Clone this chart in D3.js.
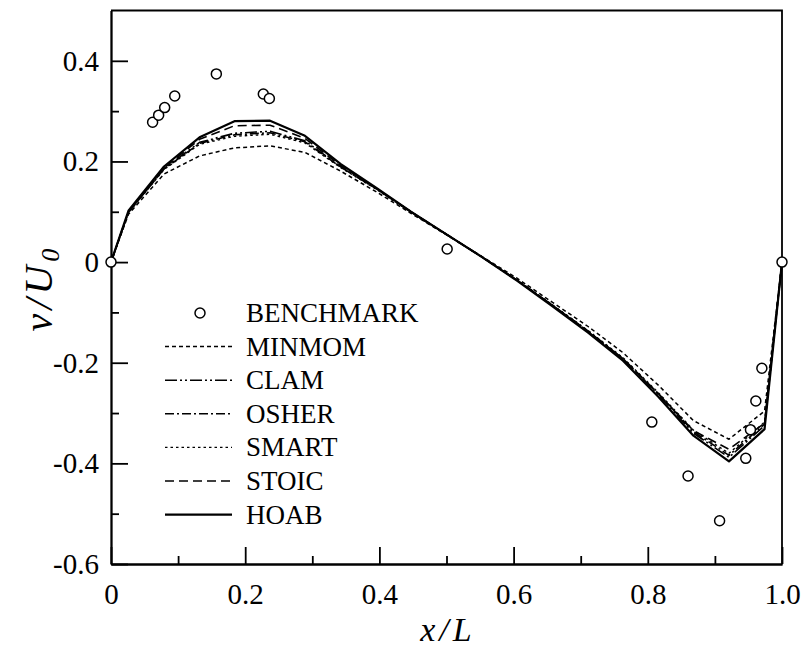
<!DOCTYPE html>
<html>
<head>
<meta charset="utf-8">
<script src="https://cdn.jsdelivr.net/npm/d3@7"></script>
<style>
  body { margin: 0; background: #fff; }
  svg { display: block; font-family: "Liberation Serif", "DejaVu Serif", serif; }
</style>
</head>
<body>
<div id="chart"></div>
<script>
// -----------------------------
// data
// -----------------------------

const xNodes = [0, 0.026, 0.079, 0.132, 0.184, 0.237, 0.289, 0.342, 0.395, 0.447, 0.5,
    0.553, 0.605, 0.658, 0.711, 0.763, 0.816, 0.868, 0.921, 0.974, 1.0]

const minmom = [0, 0.095, 0.175, 0.211, 0.227, 0.231, 0.218, 0.181, 0.140, 0.097, 0.054,
    0.011, -0.032, -0.080, -0.128, -0.180, -0.245, -0.315, -0.352, -0.296, 0]
const clam = [0, 0.099, 0.186, 0.238, 0.256, 0.260, 0.241, 0.190, 0.146, 0.100, 0.055,
    0.010, -0.036, -0.086, -0.138, -0.193, -0.264, -0.340, -0.388, -0.325, 0]
const osher = [0, 0.099, 0.185, 0.236, 0.253, 0.257, 0.239, 0.189, 0.146, 0.100, 0.055,
    0.010, -0.036, -0.086, -0.137, -0.192, -0.262, -0.337, -0.384, -0.322, 0]
const smart = [0, 0.098, 0.184, 0.234, 0.250, 0.254, 0.237, 0.188, 0.145, 0.099, 0.055,
    0.010, -0.035, -0.085, -0.136, -0.190, -0.260, -0.334, -0.380, -0.318, 0]
const stoic = [0, 0.100, 0.187, 0.244, 0.271, 0.272, 0.246, 0.192, 0.147, 0.100, 0.055,
    0.010, -0.036, -0.086, -0.137, -0.192, -0.262, -0.335, -0.372, -0.320, 0]
const hoab = [0, 0.102, 0.190, 0.248, 0.280, 0.281, 0.251, 0.195, 0.148, 0.100, 0.055,
    0.010, -0.037, -0.088, -0.140, -0.196, -0.268, -0.345, -0.396, -0.332, 0]

const benchX = [0, 0.062, 0.071, 0.080, 0.095, 0.157, 0.227, 0.236, 0.501,
    0.806, 0.860, 0.907, 0.946, 0.953, 0.961, 0.970, 1.0]
const benchY = [0, 0.278, 0.292, 0.307, 0.330, 0.374, 0.334, 0.325, 0.026,
    -0.318, -0.425, -0.514, -0.390, -0.333, -0.276, -0.211, 0]

const xTicks = [0, 0.2, 0.4, 0.6, 0.8, 1.0]
const xTickLabels = ['0', '0.2', '0.4', '0.6', '0.8', '1.0']
const xMinor = [0.1, 0.3, 0.5, 0.7, 0.9]
const yTicks = [-0.6, -0.4, -0.2, 0, 0.2, 0.4]
const yTickLabels = ['-0.6', '-0.4', '-0.2', '0', '0.2', '0.4']
const yMinor = [-0.5, -0.3, -0.1, 0.1, 0.3]

const seriesNames = ['MINMOM', 'CLAM', 'OSHER', 'SMART', 'STOIC', 'HOAB']
const seriesValues = [minmom, clam, osher, smart, stoic, hoab]
const seriesDash = ['4,3', '12,3,2,3,2,3', '9,3,2,3', '2.5,3', '9,5', null]
const seriesWidth = [1.5, 1.6, 1.6, 1.4, 1.6, 2.2]

const serif = '"Liberation Serif", "DejaVu Serif", serif'

// -----------------------------
// layout
// -----------------------------

const w = 807
const h = 648
const plot = {left: 111, right: 782, top: 10.5, bottom: 564}

const xScale = d3.scaleLinear().domain([0, 1]).range([plot.left, plot.right])
const yScale = d3.scaleLinear().domain([-0.6, 0.5]).range([plot.bottom, plot.top])

const svg = d3.select('#chart')
    .append('svg')
    .attr('width', w)
    .attr('height', h)

// frame (top + right)
svg.append('path')
    .attr('d', `M${plot.left},${plot.top}H${plot.right}V${plot.bottom}`)
    .attr('fill', 'none')
    .attr('stroke', '#000')
    .attr('stroke-width', 1.8)

function styleAxis(g) {
    g.attr('font-family', serif).attr('font-size', 29)
    g.selectAll('path, line').attr('stroke', '#000').attr('stroke-width', 1.8)
    g.selectAll('text').attr('fill', '#000')
}

// axes, ticks inside
const xAxis = d3.axisBottom(xScale)
    .tickValues(xTicks)
    .tickFormat((d, i) => xTickLabels[i])
    .tickSizeInner(-17)
    .tickSizeOuter(0)
    .tickPadding(19)

svg.append('g')
    .attr('transform', 'translate(0,' + plot.bottom + ')')
    .call(xAxis)
    .call(styleAxis)

svg.append('g')
    .attr('transform', 'translate(0,' + plot.bottom + ')')
    .call(d3.axisBottom(xScale).tickValues(xMinor).tickFormat('').tickSizeInner(-8).tickSizeOuter(0))
    .call(styleAxis)

const yAxis = d3.axisLeft(yScale)
    .tickValues(yTicks)
    .tickFormat((d, i) => yTickLabels[i])
    .tickSizeInner(-17)
    .tickSizeOuter(0)
    .tickPadding(12)

svg.append('g')
    .attr('transform', 'translate(' + plot.left + ',0)')
    .call(yAxis)
    .call(styleAxis)

svg.append('g')
    .attr('transform', 'translate(' + plot.left + ',0)')
    .call(d3.axisLeft(yScale).tickValues(yMinor).tickFormat('').tickSizeInner(-8).tickSizeOuter(0))
    .call(styleAxis)

// -----------------------------
// series lines
// -----------------------------

const line = d3.line()
    .x((d, i) => xScale(xNodes[i]))
    .y(d => yScale(d))

svg.append('g')
    .selectAll('path.series')
    .data(seriesValues)
    .enter()
    .append('path')
    .attr('class', 'series')
    .attr('d', line)
    .attr('fill', 'none')
    .attr('stroke', '#000')
    .attr('stroke-width', (d, i) => seriesWidth[i])
    .attr('stroke-dasharray', (d, i) => seriesDash[i])
    .attr('stroke-linejoin', 'round')

// benchmark circles
svg.append('g')
    .selectAll('circle.bench')
    .data(benchX)
    .enter()
    .append('circle')
    .attr('class', 'bench')
    .attr('cx', d => xScale(d))
    .attr('cy', (d, i) => yScale(benchY[i]))
    .attr('r', 5)
    .attr('fill', '#fff')
    .attr('stroke', '#000')
    .attr('stroke-width', 1.5)

// -----------------------------
// legend
// -----------------------------

const legend = svg.append('g').attr('transform', 'translate(0,313)')
const rowH = 33.6

legend.append('circle')
    .attr('cx', 200)
    .attr('cy', 0)
    .attr('r', 5)
    .attr('fill', '#fff')
    .attr('stroke', '#000')
    .attr('stroke-width', 1.5)

legend.selectAll('line.leg')
    .data(seriesNames)
    .enter()
    .append('line')
    .attr('class', 'leg')
    .attr('x1', 165)
    .attr('x2', 232)
    .attr('y1', (d, i) => (i + 1) * rowH)
    .attr('y2', (d, i) => (i + 1) * rowH)
    .attr('stroke', '#000')
    .attr('stroke-width', (d, i) => seriesWidth[i])
    .attr('stroke-dasharray', (d, i) => seriesDash[i])

legend.selectAll('text.leg')
    .data(['BENCHMARK'].concat(seriesNames))
    .enter()
    .append('text')
    .attr('class', 'leg')
    .attr('x', 246)
    .attr('y', (d, i) => i * rowH)
    .attr('dy', '0.33em')
    .attr('font-size', 27)
    .text(d => d)

// -----------------------------
// axis titles
// -----------------------------

svg.append('text')
    .attr('x', 448)
    .attr('y', 641)
    .attr('text-anchor', 'middle')
    .attr('font-size', 34)
    .attr('font-style', 'italic')
    .attr('letter-spacing', 4)
    .text('x/L')

const yTitle = svg.append('text')
    .attr('transform', 'translate(52,288) rotate(-90)')
    .attr('text-anchor', 'middle')
    .attr('font-size', 40)
    .attr('font-style', 'italic')
    .attr('letter-spacing', 4)
yTitle.append('tspan').text('v/U')
yTitle.append('tspan').attr('font-size', 26).attr('dy', 7).text('0')
</script>
</body>
</html>
